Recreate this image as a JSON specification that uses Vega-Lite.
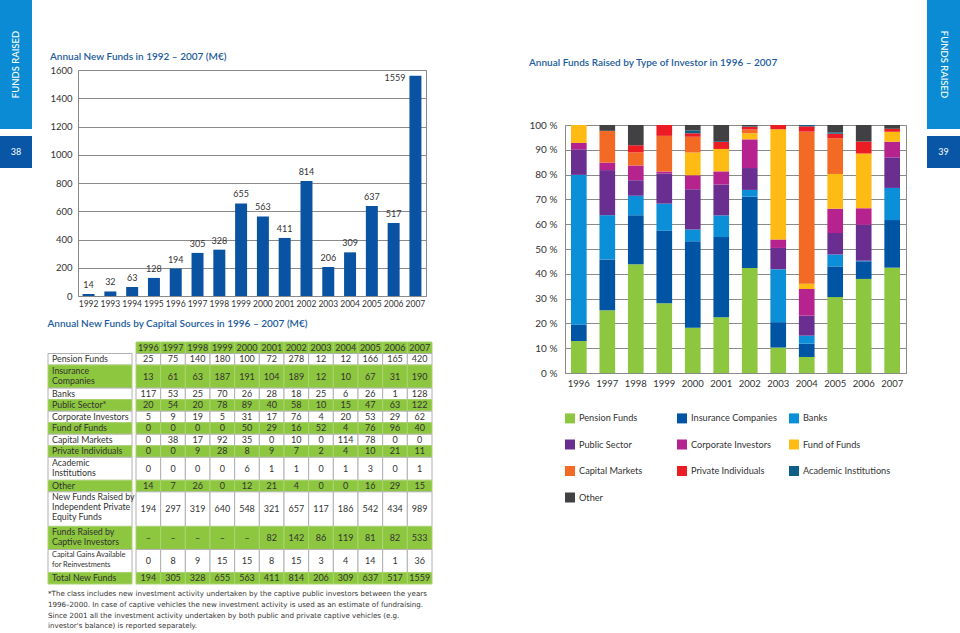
{
  "$schema": "https://vega.github.io/schema/vega-lite/v6.json",
  "padding": 0,
  "background": "white",
  "config": {
    "font": "Lato",
    "view": {"stroke": null},
    "axis": {"labelFont": "Lato", "labelColor": "#333333", "labelFontSize": 9, "domain": false, "ticks": false, "gridColor": "#8a8a8a", "gridWidth": 1, "title": null},
    "title": {"font": "Lato", "fontSize": 10, "fontWeight": 600, "color": "#1d5c9c", "anchor": "start"},
    "text": {"font": "Lato", "color": "#333333"}
  },
  "datasets": {
    "totals": [
      {"year": 1992, "funds": 14}, {"year": 1993, "funds": 32}, {"year": 1994, "funds": 63}, {"year": 1995, "funds": 128},
      {"year": 1996, "funds": 194}, {"year": 1997, "funds": 305}, {"year": 1998, "funds": 328}, {"year": 1999, "funds": 655},
      {"year": 2000, "funds": 563}, {"year": 2001, "funds": 411}, {"year": 2002, "funds": 814}, {"year": 2003, "funds": 206},
      {"year": 2004, "funds": 309}, {"year": 2005, "funds": 637}, {"year": 2006, "funds": 517}, {"year": 2007, "funds": 1559}
    ],
    "table": [
      {"label": "", "1996": "1996", "1997": "1997", "1998": "1998", "1999": "1999", "2000": "2000", "2001": "2001", "2002": "2002", "2003": "2003", "2004": "2004", "2005": "2005", "2006": "2006", "2007": "2007"},
      {"label": "Pension Funds", "1996": 25, "1997": 75, "1998": 140, "1999": 180, "2000": 100, "2001": 72, "2002": 278, "2003": 12, "2004": 12, "2005": 166, "2006": 165, "2007": 420},
      {"label": "Insurance\nCompanies", "1996": 13, "1997": 61, "1998": 63, "1999": 187, "2000": 191, "2001": 104, "2002": 189, "2003": 12, "2004": 10, "2005": 67, "2006": 31, "2007": 190},
      {"label": "Banks", "1996": 117, "1997": 53, "1998": 25, "1999": 70, "2000": 26, "2001": 28, "2002": 18, "2003": 25, "2004": 6, "2005": 26, "2006": 1, "2007": 128},
      {"label": "Public Sector*", "1996": 20, "1997": 54, "1998": 20, "1999": 78, "2000": 89, "2001": 40, "2002": 58, "2003": 10, "2004": 15, "2005": 47, "2006": 63, "2007": 122},
      {"label": "Corporate Investors", "1996": 5, "1997": 9, "1998": 19, "1999": 5, "2000": 31, "2001": 17, "2002": 76, "2003": 4, "2004": 20, "2005": 53, "2006": 29, "2007": 62},
      {"label": "Fund of Funds", "1996": 0, "1997": 0, "1998": 0, "1999": 0, "2000": 50, "2001": 29, "2002": 16, "2003": 52, "2004": 4, "2005": 76, "2006": 96, "2007": 40},
      {"label": "Capital Markets", "1996": 0, "1997": 38, "1998": 17, "1999": 92, "2000": 35, "2001": 0, "2002": 10, "2003": 0, "2004": 114, "2005": 78, "2006": 0, "2007": 0},
      {"label": "Private Individuals", "1996": 0, "1997": 0, "1998": 9, "1999": 28, "2000": 8, "2001": 9, "2002": 7, "2003": 2, "2004": 4, "2005": 10, "2006": 21, "2007": 11},
      {"label": "Academic\nInstitutions", "1996": 0, "1997": 0, "1998": 0, "1999": 0, "2000": 6, "2001": 1, "2002": 1, "2003": 0, "2004": 1, "2005": 3, "2006": 0, "2007": 1},
      {"label": "Other", "1996": 14, "1997": 7, "1998": 26, "1999": 0, "2000": 12, "2001": 21, "2002": 4, "2003": 0, "2004": 0, "2005": 16, "2006": 29, "2007": 15},
      {"label": "New Funds Raised by\nIndependent Private\nEquity Funds", "1996": 194, "1997": 297, "1998": 319, "1999": 640, "2000": 548, "2001": 321, "2002": 657, "2003": 117, "2004": 186, "2005": 542, "2006": 434, "2007": 989},
      {"label": "Funds Raised by\nCaptive Investors", "1996": "–", "1997": "–", "1998": "–", "1999": "–", "2000": "–", "2001": 82, "2002": 142, "2003": 86, "2004": 119, "2005": 81, "2006": 82, "2007": 533},
      {"label": "Capital Gains Available\nfor Reinvestments", "1996": 0, "1997": 8, "1998": 9, "1999": 15, "2000": 15, "2001": 8, "2002": 15, "2003": 3, "2004": 4, "2005": 14, "2006": 1, "2007": 36},
      {"label": "Total New Funds", "1996": 194, "1997": 305, "1998": 328, "1999": 655, "2000": 563, "2001": 411, "2002": 814, "2003": 206, "2004": 309, "2005": 637, "2006": 517, "2007": 1559}
    ],
    "mix": [
      {"type": "Pension Funds", "1996": 25, "1997": 75, "1998": 140, "1999": 180, "2000": 100, "2001": 72, "2002": 278, "2003": 12, "2004": 12, "2005": 166, "2006": 165, "2007": 420},
      {"type": "Insurance Companies", "1996": 13, "1997": 61, "1998": 63, "1999": 187, "2000": 191, "2001": 104, "2002": 189, "2003": 12, "2004": 10, "2005": 67, "2006": 31, "2007": 190},
      {"type": "Banks", "1996": 117, "1997": 53, "1998": 25, "1999": 70, "2000": 26, "2001": 28, "2002": 18, "2003": 25, "2004": 6, "2005": 26, "2006": 1, "2007": 128},
      {"type": "Public Sector", "1996": 20, "1997": 54, "1998": 20, "1999": 78, "2000": 89, "2001": 40, "2002": 58, "2003": 10, "2004": 15, "2005": 47, "2006": 63, "2007": 122},
      {"type": "Corporate Investors", "1996": 5, "1997": 9, "1998": 19, "1999": 5, "2000": 31, "2001": 17, "2002": 76, "2003": 4, "2004": 20, "2005": 53, "2006": 29, "2007": 62},
      {"type": "Fund of Funds", "1996": 14, "1997": 0, "1998": 0, "1999": 0, "2000": 50, "2001": 29, "2002": 16, "2003": 52, "2004": 4, "2005": 76, "2006": 96, "2007": 40},
      {"type": "Capital Markets", "1996": 0, "1997": 38, "1998": 17, "1999": 92, "2000": 35, "2001": 0, "2002": 10, "2003": 0, "2004": 114, "2005": 78, "2006": 0, "2007": 0},
      {"type": "Private Individuals", "1996": 0, "1997": 0, "1998": 9, "1999": 28, "2000": 8, "2001": 9, "2002": 7, "2003": 2, "2004": 4, "2005": 10, "2006": 21, "2007": 11},
      {"type": "Academic Institutions", "1996": 0, "1997": 0, "1998": 0, "1999": 0, "2000": 6, "2001": 1, "2002": 1, "2003": 0, "2004": 1, "2005": 3, "2006": 0, "2007": 1},
      {"type": "Other", "1996": 0, "1997": 7, "1998": 26, "1999": 0, "2000": 12, "2001": 21, "2002": 4, "2003": 0, "2004": 0, "2005": 16, "2006": 29, "2007": 15}
    ]
  },
  "hconcat": [
    {
      "hconcat": [
        {
          "vconcat": [
            {"width": 32, "height": 129, "view": {"fill": "#0a8bd3", "stroke": null}, "data": {"values": [{"section": "FUNDS RAISED"}]},
             "mark": {"type": "text", "angle": 270, "align": "center", "baseline": "middle", "color": "white", "fontSize": 9.5, "fontWeight": 500},
             "encoding": {
               "x": {"datum": 0.5, "type": "quantitative", "scale": {"domain": [0, 1]}, "axis": null},
               "y": {"datum": 0.5, "type": "quantitative", "scale": {"domain": [0, 1]}, "axis": null},
               "text": {"field": "section", "type": "nominal"}}},
            {"width": 32, "height": 32, "view": {"fill": "#0856a5", "stroke": null}, "data": {"values": [{"page": "38"}]},
             "mark": {"type": "text", "align": "center", "baseline": "middle", "color": "white", "fontSize": 9},
             "encoding": {"text": {"field": "page", "type": "nominal"}}}
          ],
          "spacing": 7
        },
        {
          "vconcat": [
            {"width": 10, "height": 51, "data": {"values": [{}]}, "mark": {"type": "text"}, "encoding": {"text": {"value": ""}}},
            {
              "vconcat": [
                {
                  "hconcat": [
                    {"width": 1, "height": 1, "data": {"values": [{}]}, "mark": {"type": "text"}, "encoding": {"text": {"value": ""}}},
                    {
                      "title": {"text": "Annual New Funds in 1992 – 2007 (M€)", "offset": 3},
                      "width": 348, "height": 226,
                      "data": {"name": "totals"},
                      "view": {"stroke": "#8a8a8a"},
                      "encoding": {
                        "x": {"field": "year", "type": "ordinal", "scale": {"paddingInner": 0.45, "paddingOuter": 0.21}, "axis": {"labelAngle": 0, "grid": false, "labelPadding": 3, "labelFontSize": 8.5}},
                        "y": {"field": "funds", "type": "quantitative", "scale": {"domain": [0, 1600], "nice": false}, "axis": {"values": [0, 200, 400, 600, 800, 1000, 1200, 1400, 1600], "format": "d", "labelPadding": 6, "labelFontSize": 9.5}}
                      },
                      "layer": [
                        {"mark": {"type": "bar", "color": "#0a53a3"}},
                        {"transform": [{"filter": "datum.funds < 1500"}], "mark": {"type": "text", "baseline": "bottom", "dy": -4, "fontSize": 9}, "encoding": {"text": {"field": "funds", "type": "nominal"}}},
                        {"transform": [{"filter": "datum.funds >= 1500"}], "mark": {"type": "text", "align": "right", "baseline": "middle", "dx": -10, "dy": 2, "fontSize": 9}, "encoding": {"text": {"field": "funds", "type": "nominal"}}}
                      ]
                    }
                  ],
                  "spacing": 0
                },
                {
                  "vconcat": [
                    {
                      "title": {"text": "Annual New Funds by Capital Sources in 1996 – 2007 (M€)", "offset": 13},
                      "data": {"name": "table"},
                      "transform": [
                        {"calculate": "1.2 * length(split(datum.label, '\\n'))", "as": "units"},
                        {"window": [{"op": "row_number", "as": "row"}, {"op": "sum", "field": "units", "as": "yEnd"}]},
                        {"calculate": "datum.yEnd - datum.units", "as": "yStart"},
                        {"calculate": "(datum.yEnd + datum.yStart) / 2", "as": "yMid"}
                      ],
                      "hconcat": [
                        {
                          "width": 84, "height": 242,
                          "layer": [
                            {"mark": {"type": "rect", "strokeWidth": 1},
                             "encoding": {
                               "y": {"field": "yStart", "type": "quantitative", "scale": {"domain": [0, 25.2], "reverse": true, "nice": false, "zero": false}, "axis": null},
                               "y2": {"field": "yEnd"},
                               "fill": {"condition": [{"test": "datum.label === ''", "value": "transparent"}, {"test": "datum.row % 2 === 1", "value": "#8dc63f"}], "value": "#ffffff"},
                               "stroke": {"condition": [{"test": "datum.label === ''", "value": "transparent"}, {"test": "datum.row % 2 === 1", "value": "#a9d46e"}], "value": "#b0b0b0"}
                             }},
                            {"mark": {"type": "text", "align": "left", "baseline": "top", "lineBreak": "\n", "dx": 4, "dy": 1.5, "lineHeight": 10},
                             "encoding": {
                               "x": {"datum": 0, "type": "quantitative", "scale": {"domain": [0, 1]}, "axis": null},
                               "y": {"field": "yStart", "type": "quantitative", "scale": {"domain": [0, 25.2], "reverse": true, "nice": false, "zero": false}, "axis": null},
                               "text": {"field": "label", "type": "nominal"},
                               "size": {"condition": {"test": "length(split(datum.label, '\\n')[0]) > 20", "value": 7.4}, "value": 8.8}
                             }}
                          ]
                        },
                        {
                          "width": 296, "height": 242,
                          "transform": [{"fold": ["1996", "1997", "1998", "1999", "2000", "2001", "2002", "2003", "2004", "2005", "2006", "2007"], "as": ["year", "cell"]}],
                          "encoding": {
                            "x": {"field": "year", "type": "ordinal", "scale": {"paddingInner": 0, "paddingOuter": 0}, "axis": null}
                          },
                          "layer": [
                            {"mark": {"type": "rect", "strokeWidth": 1},
                             "encoding": {
                               "y": {"field": "yStart", "type": "quantitative", "scale": {"domain": [0, 25.2], "reverse": true, "nice": false, "zero": false}, "axis": null},
                               "y2": {"field": "yEnd"},
                               "fill": {"condition": {"test": "datum.row % 2 === 1", "value": "#8dc63f"}, "value": "#ffffff"},
                               "stroke": {"condition": {"test": "datum.row % 2 === 1", "value": "#a9d46e"}, "value": "#b0b0b0"}
                             }},
                            {"mark": {"type": "text", "align": "center", "baseline": "middle", "fontSize": 9},
                             "encoding": {
                               "y": {"field": "yMid", "type": "quantitative", "scale": {"domain": [0, 25.2], "reverse": true, "nice": false, "zero": false}, "axis": null},
                               "text": {"field": "cell", "type": "nominal"}
                             }}
                          ]
                        }
                      ],
                      "spacing": 0
                    },
                    {
                      "width": 376, "height": 40,
                      "data": {"values": [{"note": "*The class includes new investment activity undertaken by the captive public investors between the years\n1996–2000. In case of captive vehicles the new investment activity is used as an estimate of fundraising.\nSince 2001 all the investment activity undertaken by both public and private captive vehicles (e.g.\ninvestor's balance) is reported separately."}]},
                      "mark": {"type": "text", "align": "left", "baseline": "top", "lineBreak": "\n", "font": "DejaVu Sans", "fontSize": 7.1, "lineHeight": 10.8},
                      "encoding": {
                        "x": {"datum": 0, "type": "quantitative", "scale": {"domain": [0, 1]}, "axis": null},
                        "y": {"datum": 1, "type": "quantitative", "scale": {"domain": [0, 1]}, "axis": null},
                        "text": {"field": "note", "type": "nominal"}
                      }
                    }
                  ],
                  "spacing": 5
                }
              ],
              "spacing": 10
            }
          ],
          "spacing": 0
        }
      ],
      "spacing": 15
    },
    {
      "hconcat": [
        {
          "vconcat": [
            {"width": 10, "height": 57, "data": {"values": [{}]}, "mark": {"type": "text"}, "encoding": {"text": {"value": ""}}},
            {
              "title": {"text": "Annual Funds Raised by Type of Investor in 1996 – 2007", "offset": 52},
              "width": 341, "height": 248,
              "data": {"name": "mix"},
              "transform": [
                {"window": [{"op": "row_number", "as": "rank"}]},
                {"fold": ["1996", "1997", "1998", "1999", "2000", "2001", "2002", "2003", "2004", "2005", "2006", "2007"], "as": ["year", "amount"]}
              ],
              "view": {"stroke": "#8a8a8a"},
              "mark": {"type": "bar"},
              "encoding": {
                "x": {"field": "year", "type": "ordinal", "scale": {"paddingInner": 0.45, "paddingOuter": 0.21}, "axis": {"labelAngle": 0, "grid": false, "labelPadding": 5, "labelFontSize": 9.5}},
                "y": {"field": "amount", "type": "quantitative", "stack": "normalize", "scale": {"domain": [0, 1], "nice": false}, "axis": {"values": [0, 0.1, 0.2, 0.3, 0.4, 0.5, 0.6, 0.7, 0.8, 0.9, 1], "labelExpr": "round(datum.value * 100) + ' %'", "labelPadding": 8, "labelFontSize": 10}},
                "order": {"field": "rank", "type": "quantitative", "sort": "ascending"},
                "color": {
                  "field": "type", "type": "nominal",
                  "sort": ["Pension Funds", "Insurance Companies", "Banks", "Public Sector", "Corporate Investors", "Fund of Funds", "Capital Markets", "Private Individuals", "Academic Institutions", "Other"],
                  "scale": {
                    "domain": ["Pension Funds", "Insurance Companies", "Banks", "Public Sector", "Corporate Investors", "Fund of Funds", "Capital Markets", "Private Individuals", "Academic Institutions", "Other"],
                    "range": ["#8dc63f", "#0054a4", "#0b8fd8", "#6a2e91", "#b6238e", "#fdbb14", "#f26a24", "#ec1c24", "#0d5f87", "#414042"]
                  },
                  "legend": {"title": null, "orient": "bottom", "direction": "horizontal", "columns": 3, "gridAlign": "all", "symbolType": "square", "symbolSize": 100, "symbolStrokeWidth": 0, "symbolOpacity": 1, "labelFont": "Lato", "labelFontSize": 9.2, "labelColor": "#333333", "labelLimit": 250, "rowPadding": 15.5, "columnPadding": 10, "offset": 25, "padding": 0}
                }
              }
            }
          ],
          "spacing": 0,
          "resolve": {"scale": {"color": "independent"}, "legend": {"color": "independent"}}
        },
        {
          "vconcat": [
            {"width": 33, "height": 129, "view": {"fill": "#0a8bd3", "stroke": null}, "data": {"values": [{"section": "FUNDS RAISED"}]},
             "mark": {"type": "text", "angle": 90, "align": "center", "baseline": "middle", "color": "white", "fontSize": 9.5, "fontWeight": 500},
             "encoding": {
               "x": {"datum": 0.5, "type": "quantitative", "scale": {"domain": [0, 1]}, "axis": null},
               "y": {"datum": 0.5, "type": "quantitative", "scale": {"domain": [0, 1]}, "axis": null},
               "text": {"field": "section", "type": "nominal"}}},
            {"width": 33, "height": 32, "view": {"fill": "#0856a5", "stroke": null}, "data": {"values": [{"page": "39"}]},
             "mark": {"type": "text", "align": "center", "baseline": "middle", "color": "white", "fontSize": 9},
             "encoding": {"text": {"field": "page", "type": "nominal"}}}
          ],
          "spacing": 7
        }
      ],
      "spacing": 20
    }
  ],
  "spacing": 95
}
